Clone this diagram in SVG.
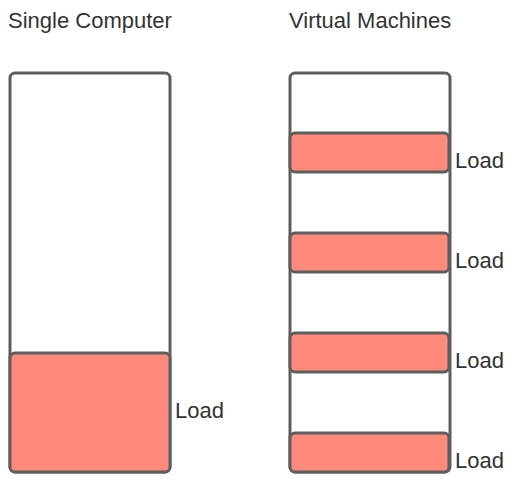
<svg xmlns="http://www.w3.org/2000/svg" width="515" height="482" viewBox="0 0 515 482">
<style>
.box{fill:#ffffff;stroke:#5e5e5e;stroke-width:3}
.load{fill:#ff8a7b;stroke:#5e5e5e;stroke-width:3}
text{font-family:"Liberation Sans",Arial,sans-serif;font-size:22px;fill:#333333}
</style>
<rect width="515" height="482" fill="#ffffff"/>
<g id="title-single"><text x="8" y="28">Single Computer</text></g>
<g id="title-vm"><text x="289" y="28">Virtual Machines</text></g>
<g id="single-computer">
<rect class="box" x="10" y="73" width="160" height="399" rx="5"/>
</g>
<g id="single-load">
<rect class="load" x="10" y="353" width="160" height="119" rx="5"/>
<text x="175" y="418">Load</text>
</g>
<g id="vm-host">
<rect class="box" x="290" y="73" width="160" height="399" rx="5"/>
</g>
<g id="vm1"><rect class="load" x="290" y="133" width="159" height="39" rx="5"/><text x="455" y="168">Load</text></g>
<g id="vm2"><rect class="load" x="290" y="233" width="159" height="39" rx="5"/><text x="455" y="268">Load</text></g>
<g id="vm3"><rect class="load" x="290" y="333" width="159" height="39" rx="5"/><text x="455" y="368">Load</text></g>
<g id="vm4"><rect class="load" x="290" y="433" width="159" height="39" rx="5"/><text x="455" y="468">Load</text></g>
<g id="connectors"></g>
</svg>
